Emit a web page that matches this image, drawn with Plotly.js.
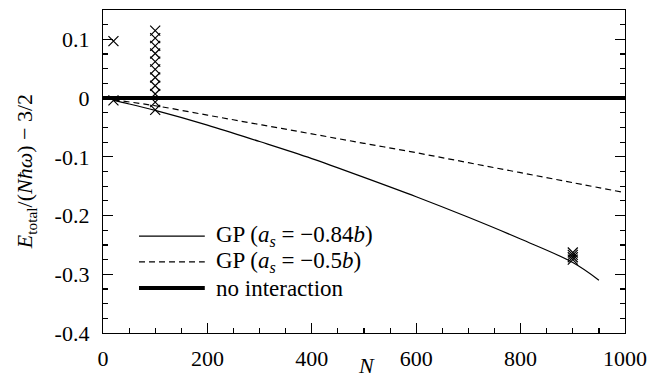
<!DOCTYPE html>
<html>
<head>
<meta charset="utf-8">
<script src="https://cdn.plot.ly/plotly-3.0.1.min.js"></script>
<style>html,body{margin:0;padding:0;background:#fff;}#chart{width:660px;height:382px;}</style>
</head>
<body>
<div id="chart"></div>
<script>
// Solid GP curve (a_s = -0.84b)
const gpStrongN = [20, 50, 100, 200, 300, 400, 500, 600, 700, 800, 900, 950];
const gpStrongE = [-0.004, -0.010, -0.021, -0.046, -0.074, -0.103, -0.135, -0.168, -0.203, -0.240, -0.280, -0.310];
// Dashed GP curve (a_s = -0.5b)
const gpWeakN = [20, 100, 200, 300, 400, 500, 600, 700, 800, 900, 1000];
const gpWeakE = [-0.003, -0.013, -0.029, -0.045, -0.061, -0.077, -0.093, -0.110, -0.127, -0.144, -0.161];
// No interaction
const noIntN = [0, 1000];
const noIntE = [0, 0];
// Cross markers (simulation points)
const crossN = [20, 20, 100, 100, 100, 100, 100, 100, 100, 100, 100, 100, 100, 900, 900, 900, 900];
const crossE = [0.097, -0.004, 0.115, 0.102, 0.089, 0.076, 0.062, 0.049, 0.035, 0.021, 0.007, -0.007, -0.020, -0.263, -0.267, -0.271, -0.275];
// Tick labels
const xTickVals = [0, 200, 400, 600, 800, 1000];
const xTickText = ['0', '200', '400', '600', '800', '1000'];
const yTickVals = [0.1, 0, -0.1, -0.2, -0.3, -0.4];
const yTickText = ['0.1', '0', '-0.1', '-0.2', '-0.3', '-0.4'];
// Legend labels
const legendLabels = ['GP (<i>a<sub>s</sub></i> = −0.84<i>b</i>)', 'GP (<i>a<sub>s</sub></i> = −0.5<i>b</i>)', 'no interaction'];
const xTitle = '<i>N</i>';
const yTitle = '<i>E</i><sub>total</sub>/(<i>Nħω</i>) − 3/2';

const FAM = 'Liberation Serif, Times New Roman, serif';
const font = {family: FAM, color: '#000', size: 22};
const legFont = {family: FAM, color: '#000', size: 23};

const lineStyles = [
  {color: '#000', width: 1.2},
  {color: '#000', width: 1.2, dash: '6px,4px'},
  {color: '#000', width: 4}
];

const traces = [
  {x: gpStrongN, y: gpStrongE, mode: 'lines', line: Object.assign({shape: 'spline'}, lineStyles[0]), name: legendLabels[0], showlegend: false},
  {x: gpWeakN, y: gpWeakE, mode: 'lines', line: Object.assign({shape: 'spline'}, lineStyles[1]), name: legendLabels[1], showlegend: false},
  {x: noIntN, y: noIntE, mode: 'lines', line: lineStyles[2], name: legendLabels[2], showlegend: false},
  {x: crossN, y: crossE, mode: 'markers', showlegend: false,
   marker: {symbol: 'x-thin-open', size: 10, color: '#000', line: {color: '#000', width: 1.2}}}
];

// Manual legend (key lines + labels) in paper coordinates
const legRowY = [0.300, 0.220, 0.139];
const legX0 = 0.069, legX1 = 0.195, legTextX = 0.213;
const shapes = legendLabels.map((_, i) => ({
  type: 'line', xref: 'paper', yref: 'paper', x0: legX0, x1: legX1, y0: legRowY[i], y1: legRowY[i],
  line: lineStyles[i]
}));
const annotations = legendLabels.map((t, i) => ({
  text: t, xref: 'paper', yref: 'paper', x: legTextX, y: legRowY[i], xanchor: 'left', yanchor: 'middle',
  showarrow: false, font: legFont
}));
annotations.push({text: xTitle, xref: 'paper', yref: 'paper', x: 0.505, y: -0.102, xanchor: 'center', yanchor: 'middle', showarrow: false, font: font});
annotations.push({text: yTitle, xref: 'paper', yref: 'paper', x: -0.148, y: 0.5, xanchor: 'center', yanchor: 'middle', textangle: -90, showarrow: false, font: font});

const layout = {
  width: 660, height: 382,
  margin: {l: 103, r: 35, t: 10, b: 49},
  paper_bgcolor: '#fff', plot_bgcolor: '#fff',
  font: font,
  showlegend: false,
  shapes: shapes,
  annotations: annotations,
  xaxis: {
    range: [0, 1000], showgrid: false, zeroline: false,
    showline: true, linecolor: '#000', linewidth: 1.2, mirror: true,
    ticks: 'inside', ticklen: 10, tickwidth: 1.2, tickcolor: '#000',
    tickmode: 'array', tickvals: xTickVals, ticktext: xTickText,
    minor: {dtick: 50, tick0: 0, ticks: 'inside', ticklen: 5, tickwidth: 1.2, tickcolor: '#000', showgrid: false},
    tickfont: font, automargin: false, ticklabelstandoff: 5
  },
  yaxis: {
    range: [-0.4, 0.15], showgrid: false, zeroline: false,
    showline: true, linecolor: '#000', linewidth: 1.2, mirror: 'ticks',
    ticks: 'inside', ticklen: 10, tickwidth: 1.2, tickcolor: '#000',
    tickmode: 'array', tickvals: yTickVals, ticktext: yTickText,
    minor: {dtick: 0.025, tick0: 0, ticks: 'inside', ticklen: 5, tickwidth: 1.2, tickcolor: '#000', showgrid: false},
    tickfont: font, automargin: false, ticklabelstandoff: 8
  }
};

Plotly.newPlot('chart', traces, layout, {displayModeBar: false, staticPlot: true});
</script>
</body>
</html>
